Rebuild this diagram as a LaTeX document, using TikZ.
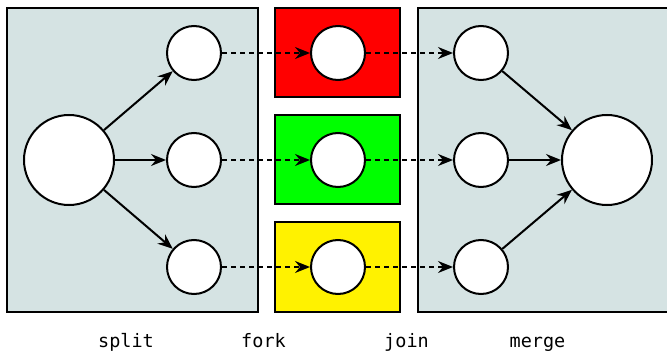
\documentclass[tikz,border=0pt]{standalone}
\usepackage{fontspec}
\setmonofont{DejaVu Sans Mono}
\usepackage{tikz}
\usetikzlibrary{arrows.meta}
\definecolor{panelgray}{RGB}{213,227,227}

\begin{document}
\begin{tikzpicture}[x=1pt, y=-1pt, line width=2pt,
	bigdot/.style={circle, draw, fill=white, minimum size=90pt, inner sep=0pt},
	smalldot/.style={circle, draw, fill=white, minimum size=54pt, inner sep=0pt},
	flow/.style={-{Stealth[length=15pt, width=12pt, inset=5pt]}, line width=2pt},
	pass/.style={flow, dash pattern=on 5pt off 4pt},
	stagename/.style={anchor=base, font=\ttfamily\fontsize{18.5}{22}\selectfont}]
	\useasboundingbox (0,0) rectangle (667,353);
	% panels
	\draw[fill=panelgray] (7,8) rectangle (258,312);
	\draw[fill=panelgray] (418,8) rectangle (672,312);
	\draw[fill=red] (275,8) rectangle (400,97);
	\draw[fill=green] (275,115) rectangle (400,204);
	\draw[fill=yellow] (275,222) rectangle (400,312);
	% split
	\node[bigdot] (src) at (69,160) {};
	\node[smalldot] (sa) at (194,53) {};
	\node[smalldot] (sb) at (194,160) {};
	\node[smalldot] (sc) at (194,267) {};
	% fork
	\node[smalldot] (fa) at (338,53) {};
	\node[smalldot] (fb) at (338,160) {};
	\node[smalldot] (fc) at (338,267) {};
	% join
	\node[smalldot] (ja) at (481,53) {};
	\node[smalldot] (jb) at (481,160) {};
	\node[smalldot] (jc) at (481,267) {};
	% merge
	\node[bigdot] (dst) at (607,160) {};
	\draw[flow] (src) -- (sa);
	\draw[flow] (src) -- (sb);
	\draw[flow] (src) -- (sc);
	\draw[pass] (sa) -- (fa);
	\draw[pass] (sb) -- (fb);
	\draw[pass] (sc) -- (fc);
	\draw[pass] (fa) -- (ja);
	\draw[pass] (fb) -- (jb);
	\draw[pass] (fc) -- (jc);
	\draw[flow] (ja) -- (dst);
	\draw[flow] (jb) -- (dst);
	\draw[flow] (jc) -- (dst);
	% labels
	\node[stagename] (lsplit) at (126,347) {split};
	\node[stagename] (lfork) at (263.5,347) {fork};
	\node[stagename] (ljoin) at (406.5,347) {join};
	\node[stagename] (lmerge) at (537.5,347) {merge};
\end{tikzpicture}
\end{document}
